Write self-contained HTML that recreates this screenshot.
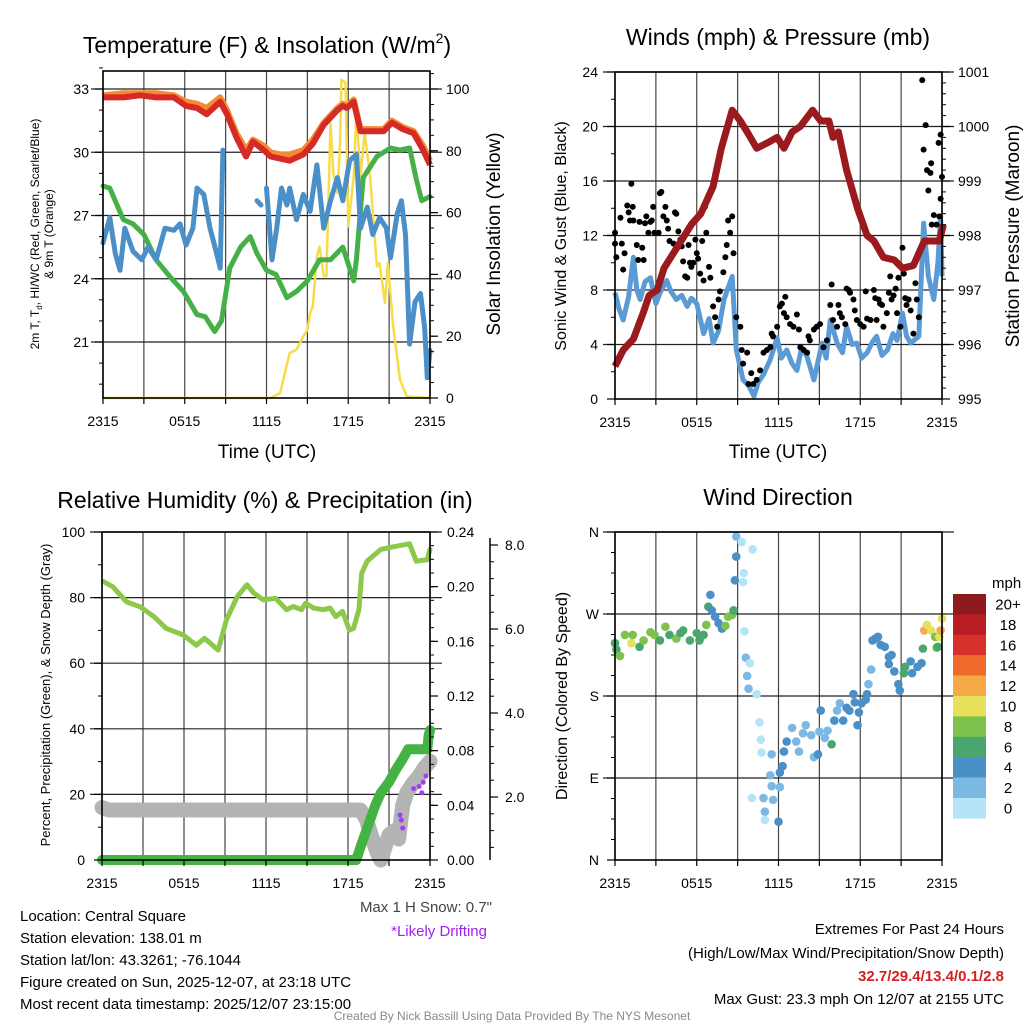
<!DOCTYPE html>
<html><head><meta charset="utf-8"><title>Mesonet Meteogram</title>
<style>
html,body{margin:0;padding:0;background:#fff;}
svg{display:block;font-family:"Liberation Sans",Arial,sans-serif;}
</style></head>
<body>
<svg id="chart" xmlns="http://www.w3.org/2000/svg" width="1024" height="1024" viewBox="0 0 1024 1024">
<rect x="0" y="0" width="1024" height="1024" fill="#fff"/>
<g id="layer-grid"></g>
<g id="layer-data"></g>
<g id="layer-axes"></g>
<g id="titles" fill="#000">
<text x="267" y="53" font-size="23" text-anchor="middle">Temperature (F) &amp; Insolation (W/m<tspan font-size="14" dy="-10">2</tspan><tspan dy="10">)</tspan></text>
<text x="778" y="45" font-size="23" text-anchor="middle">Winds (mph) &amp; Pressure (mb)</text>
<text x="265" y="508" font-size="23" text-anchor="middle">Relative Humidity (%) &amp; Precipitation (in)</text>
<text x="778" y="505" font-size="23" text-anchor="middle">Wind Direction</text>
<text x="267" y="458" font-size="19" text-anchor="middle">Time (UTC)</text>
<text x="778" y="458" font-size="19" text-anchor="middle">Time (UTC)</text>
<text transform="translate(39,234) rotate(-90)" font-size="12" text-anchor="middle">2m T, T<tspan font-size="8" dy="3">d</tspan><tspan dy="-3">, HI/WC (Red, Green, Scarlet/Blue)</tspan></text>
<text transform="translate(53,234) rotate(-90)" font-size="12" text-anchor="middle">&amp; 9m T (Orange)</text>
<text transform="translate(500,234) rotate(-90)" font-size="19" text-anchor="middle">Solar Insolation (Yellow)</text>
<text transform="translate(566,236) rotate(-90)" font-size="16" text-anchor="middle">Sonic Wind &amp; Gust (Blue, Black)</text>
<text transform="translate(1019,236) rotate(-90)" font-size="19" text-anchor="middle">Station Pressure (Maroon)</text>
<text transform="translate(50,695) rotate(-90)" font-size="13" text-anchor="middle">Percent, Precipitation (Green), &amp; Snow Depth (Gray)</text>
<text transform="translate(567,696) rotate(-90)" font-size="16" text-anchor="middle">Direction (Colored By Speed)</text>
<text x="492" y="912" font-size="15" text-anchor="end" fill="#444">Max 1 H Snow: 0.7"</text>
<text x="487" y="936" font-size="15" text-anchor="end" fill="#a020f0">*Likely Drifting</text>
<g font-size="15">
<text x="20" y="921">Location: Central Square</text>
<text x="20" y="943">Station elevation: 138.01 m</text>
<text x="20" y="965">Station lat/lon: 43.3261; -76.1044</text>
<text x="20" y="987">Figure created on Sun, 2025-12-07, at 23:18 UTC</text>
<text x="20" y="1009">Most recent data timestamp: 2025/12/07 23:15:00</text>
</g>
<g font-size="15" text-anchor="end">
<text x="1004" y="934">Extremes For Past 24 Hours</text>
<text x="1004" y="958">(High/Low/Max Wind/Precipitation/Snow Depth)</text>
<text x="1004" y="981" font-weight="bold" fill="#d42020">32.7/29.4/13.4/0.1/2.8</text>
<text x="1004" y="1004">Max Gust: 23.3 mph On 12/07 at 2155 UTC</text>
</g>
<text x="512" y="1020" font-size="12" text-anchor="middle" fill="#888">Created By Nick Bassill Using Data Provided By The NYS Mesonet</text>
<text x="992" y="588" font-size="15">mph</text>
</g>
</svg>
<script>
// ---------- Panel 1: temperature ----------
const tempHours=[0,1.5,2.7,3.9,5.2,6.1,6.9,7.6,8.6,9.1,9.8,10.5,11.0,11.8,12.3,13.0,13.7,14.7,15.4,16.2,17.2,17.6,17.9,18.4,18.9,19.8,20.6,21.2,22.0,22.8,23.5,24];
const tempRed=[32.6,32.6,32.7,32.6,32.6,32.2,32.1,31.8,32.4,31.8,30.7,29.8,30.5,30.1,29.8,29.7,29.6,29.9,30.4,31.3,32.0,32.2,32.1,32.4,31.0,31.0,31.0,31.4,31.1,30.9,30.1,29.4];
const tempOrange=[32.7,32.8,32.8,32.8,32.7,32.4,32.3,32.1,32.6,32.0,30.9,30.1,30.6,30.3,30.0,29.9,29.9,30.1,30.6,31.4,32.1,32.3,32.2,32.5,31.1,31.1,31.1,31.5,31.2,31.0,30.3,29.6];
const dewHours=[0,0.5,1.5,2.2,3.0,3.9,4.9,5.9,6.9,7.5,8.2,8.7,9.3,10.1,10.8,11.3,12.0,12.7,13.5,14.2,15.0,15.9,16.7,17.6,18.4,18.6,19.1,20.1,21.1,21.8,22.5,23.0,23.4,24];
const dewGreen=[28.4,28.3,26.8,26.6,26.1,24.9,24.1,23.4,22.3,22.2,21.5,22.0,24.5,25.5,26.0,25.2,24.4,24.2,23.1,23.4,23.9,24.9,24.9,25.5,23.9,24.9,28.8,29.8,30.2,30.1,30.2,28.7,27.7,27.9];
const hiHours=[0,0.5,0.9,1.25,1.6,2.2,2.85,3.3,3.9,4.55,5.2,5.65,6.1,6.6,6.9,7.4,7.85,8.3,8.6,8.8,null,11.3,11.6,null,12.0,12.4,12.75,13.1,13.5,13.7,14.2,14.7,15.2,15.7,16.2,16.7,17.2,17.6,18.1,18.6,18.9,19.4,19.8,20.3,20.8,21.1,21.6,21.9,22.2,22.5,22.9,23.3,23.6,23.8,24];
const hiBlue=[25.7,26.9,25.2,24.4,26.4,25.3,24.9,25.5,24.9,26.4,26.3,26.6,25.6,26.4,28.3,28.0,26.4,25.3,24.5,30.1,null,27.7,27.5,null,28.3,24.9,26.4,28.3,27.5,28.3,26.8,28.0,27.2,29.4,26.4,27.7,28.8,27.7,29.6,29.9,26.4,27.4,26.1,26.9,26.4,25.0,27.1,27.7,26.1,20.9,22.9,23.3,21.7,19.3,20.6];
const solHours=[0,12.3,13.0,13.7,14.2,14.7,15.0,15.2,15.4,15.7,15.9,16.2,16.4,16.7,16.9,17.2,17.4,17.5,17.8,18.0,18.4,18.6,18.9,19.2,19.6,20.1,20.3,20.7,20.9,21.3,21.8,22.3,24];
const solar=[0,0,1.6,14.6,15.6,20,22,27.5,29.7,45.9,49,39.4,39.4,89,72.8,66.4,82.5,103,102,55.6,71.8,92.3,71.8,85.8,71.8,42.6,43.7,30.8,43.7,23.2,5.9,0.5,0];
// ---------- Panel 2: winds & pressure ----------
const presHours=[0,0.6,1.35,2.1,2.5,3.1,3.6,4.6,5.6,6.3,7.2,7.8,8.6,9.2,9.7,10.4,11.2,11.9,12.4,13.0,13.6,14.5,15.1,15.7,16.0,16.4,17.0,17.8,18.5,19.0,19.7,20.5,21.1,21.9,22.7,23.2,23.8,24.1];
const pressure=[995.6,995.9,996.1,996.6,996.9,997.0,997.4,997.8,998.2,998.4,998.9,999.6,1000.3,1000.1,999.9,999.6,999.7,999.8,999.6,999.9,1000.0,1000.3,1000.1,1000.1,999.8,999.9,999.2,998.5,998.0,997.9,997.6,997.55,997.4,997.45,997.9,997.9,997.9,998.2];
const windHours=[0,0.3,0.6,1.0,1.35,1.6,1.85,2.2,2.6,3.0,3.3,3.8,4.1,4.5,4.9,5.3,5.6,6.0,6.5,6.9,7.2,7.6,8.0,8.6,8.9,9.4,9.8,10.2,10.5,10.9,11.4,11.9,12.2,12.6,13.0,13.35,13.7,14.1,14.6,15.2,15.5,15.8,16.3,16.7,17.0,17.4,17.75,18.1,18.5,18.9,19.2,19.6,20.0,20.4,20.7,21.1,21.4,21.7,22.3,22.65,23.0,23.4,23.7,23.9,24];
const windSpeed=[7.8,6.6,5.8,7.5,10.4,8.0,7.3,8.6,8.9,7.0,7.8,8.7,7.9,7.3,7.6,6.8,7.4,7.0,4.8,5.9,4.1,5.0,7.3,9.0,3.6,1.4,1.0,0.2,1.2,1.8,2.9,4.5,3.0,3.6,2.6,2.1,3.8,3.1,1.4,4.1,3.0,5.8,4.1,3.4,5.3,4.0,4.1,3.0,3.4,4.2,4.6,3.2,3.6,4.8,4.3,6.3,4.6,4.1,4.6,12.9,9.0,7.3,10.0,13.4,9.0];
const gustHours=[0,0,0.1,0.4,0.5,0.6,0.7,0.9,1.0,1.1,1.2,1.3,1.35,1.6,1.7,1.8,2.0,2.1,2.2,2.3,2.45,2.6,2.7,2.8,2.9,3.2,3.3,3.4,3.55,3.7,3.8,3.9,4.0,4.2,4.3,4.4,4.5,4.65,4.8,4.9,5.0,5.15,5.3,5.4,5.5,5.6,5.75,5.9,6.0,6.1,6.25,6.4,6.5,6.6,6.7,6.9,7.0,7.2,7.35,7.5,7.6,7.7,7.95,8.1,8.2,8.3,8.45,8.6,8.7,8.9,9.2,9.3,9.4,9.7,9.8,10.0,10.15,10.4,10.65,10.9,11.15,11.4,11.5,11.6,11.9,12.1,12.25,12.4,12.5,12.6,12.85,13.1,13.35,13.5,13.6,13.85,14.1,14.2,14.3,14.6,14.8,15.05,15.3,15.55,15.8,15.9,16.0,16.3,16.4,16.5,16.65,16.9,17.0,17.15,17.25,17.5,17.6,17.75,18.0,18.25,18.4,18.5,18.75,19.0,19.1,19.2,19.35,19.45,19.6,19.7,19.95,20.1,20.2,20.3,20.45,20.6,20.7,20.8,20.95,21.1,21.2,21.3,21.4,21.55,21.7,21.9,22.05,22.15,22.3,22.55,22.65,22.8,22.9,23.0,23.15,23.2,23.25,23.4,23.6,23.75,23.9,24.0,23.9,23.8];
const gustMph=[12.2,11.4,10.4,13.3,11.4,9.5,10.7,14.2,13.7,13.1,15.8,14.1,13.1,11.3,10.2,13.0,11.1,10.2,12.9,13.4,12.2,13.0,13.1,14.1,12.2,12.2,15.1,15.2,13.4,14.1,13.1,12.5,11.6,10.6,11.4,13.7,13.6,12.3,11.7,11.2,10.1,9.0,8.9,11.3,10.0,9.7,10.0,11.7,10.7,10.3,9.2,11.6,8.7,14.1,12.2,9.7,8.9,6.8,6.0,5.3,7.3,7.9,9.3,10.4,11.3,13.1,12.2,13.4,10.7,6.0,5.3,3.6,2.6,3.4,1.1,1.9,1.1,1.4,2.1,3.4,3.6,3.8,4.8,4.6,5.3,6.8,7.0,6.3,7.5,6.0,5.5,5.3,6.2,5.1,3.8,3.6,3.4,4.6,4.3,5.1,5.3,5.5,3.8,4.3,6.9,8.4,5.8,5.3,6.9,6.3,6.0,5.5,8.1,8.0,7.8,7.3,6.5,5.8,5.5,5.3,7.9,5.9,5.8,8.0,7.4,5.8,7.3,7.0,6.9,5.3,6.3,7.8,9.0,7.3,7.6,8.1,6.3,8.9,5.3,11.1,9.2,7.4,6.9,7.3,6.5,4.8,8.5,7.3,6.0,23.4,18.3,20.1,16.8,15.3,16.6,17.3,12.8,13.5,12.8,18.8,19.4,16.3,14.7,13.4];
// ---------- Panel 3: humidity, precipitation, snow ----------
const rhHours=[0.1,0.8,1.8,2.8,3.8,4.7,5.95,6.9,7.5,8.5,9.1,9.9,10.6,11.1,11.8,12.7,13.5,14.0,14.6,14.9,15.5,16.2,16.7,17.1,17.6,18.1,18.4,18.8,19.0,19.4,20.4,21.3,22.5,23.0,23.8,24];
const rhValues=[84.9,83.3,78.7,77.2,74.2,70.6,68.6,65.5,67.6,64,73.2,80.3,83.9,81.4,79.3,79.8,76.3,77.3,76.3,78.3,76.8,76.3,76.8,74.2,75.8,70.1,70.6,76.3,87.4,91.1,94.7,95.5,96.4,91.1,91.6,94.7];
const precipHours=[0,18.6,19.0,19.5,20.0,20.4,21.0,21.5,22.0,22.4,23.0,23.8,23.9,24];
const precipIn=[0,0,0.012,0.026,0.04,0.049,0.057,0.066,0.074,0.081,0.081,0.081,0.091,0.095];
const snowHours=[0,0.5,18.9,19.3,19.7,20.1,20.4,20.7,21.0,21.4,21.7,22.0,22.3,22.7,23.2,23.6,24];
const snowDepth=[1.75,1.69,1.69,1.5,1.1,0.7,0.5,0.8,1.1,1.2,1.0,1.8,2.1,2.3,2.5,2.7,2.85];
const driftHours=[21.8,21.9,22.0,22.8,23.2,23.4,23.5,23.7];
const driftDepth=[1.57,1.45,1.26,2.2,2.25,2.1,2.35,2.5];
// ---------- Panel 4: wind direction ----------
const dirHours=[0,0.1,0.37,0.73,1.2,1.3,1.8,2.1,2.6,2.9,3.3,3.7,4.0,4.5,4.8,5.0,5.5,6.0,6.2,6.5,6.7,6.85,7.0,7.1,7.35,7.6,7.85,8.1,8.3,8.6,8.7,8.8,8.9,8.9,9.3,9.4,9.45,10.1,9.5,9.6,9.9,9.7,9.8,10.4,10.6,10.7,10.75,11.5,11.4,10.05,10.9,11.0,11.0,12.0,11.5,11.6,12.1,12.1,12.3,12.4,12.6,13.0,13.3,13.5,13.8,14.0,14.4,14.6,14.9,15.0,15.1,15.4,15.6,15.9,16.1,16.3,16.5,16.75,17.0,17.2,17.5,17.6,17.8,17.9,18.1,18.4,18.5,18.6,18.8,18.9,19.1,19.3,19.5,19.8,20.1,20.3,20.1,20.5,20.8,20.9,21.2,21.3,21.7,21.8,22.2,22.5,22.6,22.7,22.9,23.2,23.5,23.6,23.8,23.9,24,23.7];
const dirDeg=[238,231,224,247,238,247,234,241,250,247,241,256,247,243,249,252,241,249,241,247,258,278,291,274,267,260,254,257,267,269,274,307,333,355,349,305,315,341,251,222,216,202,188,182,151,132,118,116,93,68,68,53,44,42,81,66,80,96,103,119,130,145,130,119,139,148,137,113,116,141,164,134,142,127,153,164,172,153,167,164,182,173,148,162,172,176,182,193,209,241,243,245,236,234,223,225,215,207,193,186,205,212,218,205,212,216,232,252,258,252,245,233,245,252,265,234];
const dirSpeed=[7,7,8,8,10,9,7,8,8,9,7,8,7,8,7,6,7,7,7,6,8,6,4,4,4,4,5,8,8,8,6,4,4,2,1,1,1,1,1,2,1,2,2,1,1,0,1,2,2,1,2,3,1,4,3,3,3,4,4,4,4,3,3,3,3,3,3,3,4,3,4,3,3,6,4,3,3,4,4,4,4,4,4,4,4,4,4,3,3,4,4,4,4,4,4,4,4,4,4,4,6,6,4,4,4,4,6,13,10,10,8,8,10,13,10,6];
const speedLabels=["20+","18","16","14","12","10","8","6","4","2","0"];
const speedColors=["#8d1a1c","#b81d24","#d8302a","#ee6a2d","#f5a947","#e6e05a","#7dc34b","#4aa56f","#4b8fc7","#7bb9e4","#b5e4f8"];
const tickTimeLabels=["2315","0515","1115","1715","2315"];

const NS="http://www.w3.org/2000/svg";
const gGrid=document.getElementById('layer-grid');
const gData=document.getElementById('layer-data');
const gAxes=document.getElementById('layer-axes');
function mk(tag,attrs,parent){const e=document.createElementNS(NS,tag);for(const k in attrs)e.setAttribute(k,attrs[k]);parent.appendChild(e);return e;}
function lin(d0,d1,r0,r1){return v=>r0+(v-d0)*(r1-r0)/(d1-d0);}
function pathD(xs,ys,fx,fy){let d="",pen=false;for(let i=0;i<xs.length;i++){if(xs[i]===null||ys[i]===null){pen=false;continue;}d+=(pen?"L":"M")+fx(xs[i]).toFixed(1)+","+fy(ys[i]).toFixed(1);pen=true;}return d;}

const p1={l:103,r:430,t:71,b:398};
const x1=lin(0,24,p1.l,p1.r), yT=lin(33,21,89,342), yI=lin(0,100,398,89);
const p2={l:615,r:942,t:72,b:399};
const x2=lin(0,24,p2.l,p2.r), yW=lin(0,24,399,72), yP=lin(995,1001,399,72);
const p3={l:102,r:430,t:532,b:860};
const x3=lin(0,24,p3.l,p3.r), yR=lin(0,100,860,532), yPr=lin(0,0.24,860,532), yS=lin(2,8,797,545);
const p4={l:615,r:942,t:532,b:860};
const x4=lin(0,24,p4.l,p4.r), yD=lin(0,360,860,532);

function gridLines(p,fx,ys,name){
  for(let h=0;h<=24;h+=3){const ln=mk('line',{x1:fx(h),x2:fx(h),y1:p.t,y2:p.b,stroke:'#444','stroke-width':1.2},gGrid);
    
    }
  ys.forEach(y=>{const ln=mk('line',{x1:p.l-12,x2:p.r+12,y1:y,y2:y,stroke:'#222','stroke-width':1.2},gGrid);
    
    });
}
gridLines(p1,x1,[33,30,27,24,21].map(yT),'temp');
gridLines(p2,x2,[4,8,12,16,20,24].map(yW),'wind');
gridLines(p3,x3,[20,40,60,80,100].map(yR),'rh');
gridLines(p4,x4,[90,180,270,360].map(yD),'dir');

function frame(p,name){const r=mk('rect',{x:p.l,y:p.t,width:p.r-p.l,height:p.b-p.t,fill:'none',stroke:'#000','stroke-width':1.6},gAxes);
  
  }
function xAxis(p,fx,name){
  for(let h=0;h<=24;h+=3){const ln=mk('line',{x1:fx(h),x2:fx(h),y1:p.b,y2:p.b+6,stroke:'#000','stroke-width':1.2},gAxes);
    
    }
  tickTimeLabels.forEach((s,i)=>{const t=mk('text',{x:fx(i*6),y:p.b+28,'font-size':14,'text-anchor':'middle'},gAxes);t.textContent=s;
    
    });
}
function yAxis(x,dir,vals,fy,labels,minors,name,lx,anchor){
  vals.forEach((v,i)=>{const ln=mk('line',{x1:x,x2:x+dir*8,y1:fy(v),y2:fy(v),stroke:'#000','stroke-width':1.2},gAxes);
    
    
    const t=mk('text',{x:lx,y:fy(v)+5,'font-size':14,'text-anchor':anchor},gAxes);t.textContent=labels[i];
    
    });
  minors.forEach(v=>{const ln=mk('line',{x1:x,x2:x+dir*4,y1:fy(v),y2:fy(v),stroke:'#000','stroke-width':1},gAxes);
    
    });
}
function range(a,b,s){const o=[];for(let v=a;v<=b+1e-9;v+=s)o.push(+v.toFixed(4));return o;}

const sol=mk('path',{d:pathD(solHours,solar,x1,yI),fill:'none',stroke:'#f7dc4a','stroke-width':2.5,'stroke-linejoin':'round'},gData);


const dew=mk('path',{d:pathD(dewHours,dewGreen,x1,yT),fill:'none',stroke:'#46b048','stroke-width':5,'stroke-linejoin':'round','stroke-linecap':'round'},gData);


const hi=mk('path',{d:pathD(hiHours,hiBlue,x1,yT),fill:'none',stroke:'#4a8fc8','stroke-width':5,'stroke-linejoin':'round','stroke-linecap':'round'},gData);


const t9=mk('path',{d:pathD(tempHours,tempOrange,x1,yT),fill:'none',stroke:'#f58a33','stroke-width':6,'stroke-linejoin':'round'},gData);


const t2=mk('path',{d:pathD(tempHours,tempRed,x1,yT),fill:'none',stroke:'#d62a26','stroke-width':6,'stroke-linejoin':'round'},gData);


frame(p1,'temp');xAxis(p1,x1,'temp');
yAxis(p1.l,-1,[33,30,27,24,21],yT,["33","30","27","24","21"],range(19,34,1),'temp-left-axis',p1.l-14,'end');
yAxis(p1.r,1,[0,20,40,60,80,100],yI,["0","20","40","60","80","100"],range(0,105,5),'insolation-axis',p1.r+16,'start');

const wl=mk('path',{d:pathD(windHours,windSpeed,x2,yW),fill:'none',stroke:'#5b9bd5','stroke-width':5,'stroke-linejoin':'round'},gData);


gustHours.forEach((h,i)=>{const c=mk('circle',{cx:x2(h),cy:yW(gustMph[i]),r:3,fill:'#000'},gData);
  
  });
const pl=mk('path',{d:pathD(presHours,pressure,x2,yP),fill:'none',stroke:'#9b1a1e','stroke-width':7,'stroke-linejoin':'round'},gData);


frame(p2,'wind');xAxis(p2,x2,'wind');
yAxis(p2.l,-1,[0,4,8,12,16,20,24],yW,["0","4","8","12","16","20","24"],range(0,24,2),'wind-axis',p2.l-17,'end');
yAxis(p2.r,1,[995,996,997,998,999,1000,1001],yP,["995","996","997","998","999","1000","1001"],range(995,1001,0.2),'pressure-axis',p2.r+16,'start');

const sn=mk('path',{d:pathD(snowHours,snowDepth,x3,yS),fill:'none',stroke:'#b4b4b4','stroke-width':15,'stroke-linejoin':'round','stroke-linecap':'round'},gData);


const pr=mk('path',{d:pathD(precipHours,precipIn,x3,yPr),fill:'none',stroke:'#43b343','stroke-width':10,'stroke-linejoin':'round','stroke-linecap':'round'},gData);


const rl=mk('path',{d:pathD(rhHours,rhValues,x3,yR),fill:'none',stroke:'#8dc84b','stroke-width':5,'stroke-linejoin':'round','stroke-linecap':'round'},gData);


driftHours.forEach((h,i)=>{const c=mk('circle',{cx:x3(h),cy:yS(driftDepth[i]),r:2.5,fill:'#a040f0'},gData);
  
  });
frame(p3,'rh');xAxis(p3,x3,'rh');
yAxis(p3.l,-1,[0,20,40,60,80,100],yR,["0","20","40","60","80","100"],range(0,100,10),'rh-axis',p3.l-17,'end');
yAxis(p3.r,1,[0,0.04,0.08,0.12,0.16,0.20,0.24],yPr,["0.00","0.04","0.08","0.12","0.16","0.20","0.24"],range(0,0.24,0.01),'precip-axis',p3.r+17,'start');
const sax=mk('line',{x1:490,x2:490,y1:538,y2:860,stroke:'#000','stroke-width':1.5},gAxes);


yAxis(490,1,[2,4,6,8],yS,["2.0","4.0","6.0","8.0"],range(0.8,8,0.4),'snow-axis',505,'start');

function speedColor(s){const idx=Math.min(10,Math.floor(s/2));return speedColors[10-idx];}
dirHours.forEach((h,i)=>{const c=mk('circle',{cx:x4(h),cy:yD(dirDeg[i]),r:4.3,fill:speedColor(dirSpeed[i])},gData);
  
  });
frame(p4,'dir');xAxis(p4,x4,'dir');
yAxis(p4.l,-1,[0,90,180,270,360],yD,["N","E","S","W","N"],range(0,360,22.5),'direction-axis',p4.l-16,'end');

speedLabels.forEach((s,i)=>{const y0=594+i*20.4;
  const r=mk('rect',{x:953,y:y0,width:33,height:20.6,fill:speedColors[i]},gAxes);
  
  
  const t=mk('text',{x:1008,y:y0+15.5,'font-size':15,'text-anchor':'middle'},gAxes);t.textContent=s;
  
  });
</script>
</body></html>
